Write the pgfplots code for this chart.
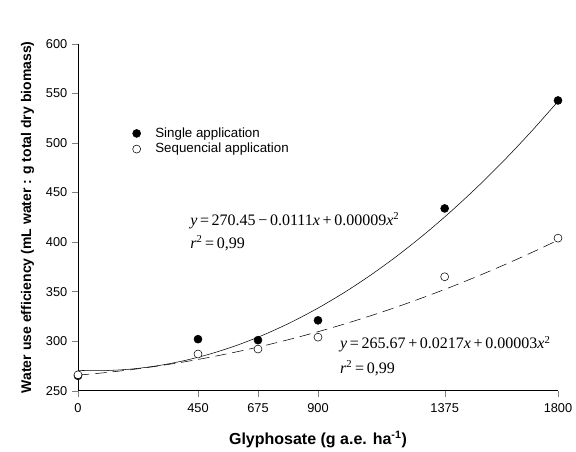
\documentclass[border=0pt]{standalone}
\usepackage{fontspec}
\setmainfont{Liberation Sans}
\newfontfamily\serif{Liberation Serif}
\usepackage{pgfplots}
\pgfplotsset{compat=1.18}
\begin{document}
\begin{tikzpicture}
\begin{axis}[
  width=360pt, height=260pt, scale only axis,
  xmin=0, xmax=1800, ymin=250, ymax=600,
  axis lines=left, axis line style={-},
  xtick={0,450,675,900,1375,1800},
  ytick={250,300,...,600},
  tick align=outside, major tick length=4.5pt,
  /pgf/number format/assume math mode=true,
  /pgf/number format/1000 sep={},
  tick label style={font=\fontsize{9.6}{12}\selectfont},
  xticklabel style={yshift=-2pt},
  xlabel={\textbf{Glyphosate (g a.e. ha\textsuperscript{-1})}},
  ylabel={\textbf{Water use efficiency (mL water : g total dry biomass)}},
  xlabel style={font=\fontsize{12}{14}\selectfont, yshift=-7pt},
  ylabel style={font=\fontsize{10.5}{12}\selectfont, yshift=2pt},
  clip=false,
  legend style={draw=none, fill=none, at={(rel axis cs:0.105,0.775)}, anchor=north west,
    font=\fontsize{10}{11}\selectfont, row sep=-1pt},
  legend cell align=left,
]
\coordinate (ll) at (rel axis cs:0,0);
\coordinate (ur) at (rel axis cs:1,1);
\addplot[black, thin, smooth, forget plot] coordinates {
(0,270.45) (100,270.24) (200,271.83) (300,275.22) (400,280.41) (500,287.40)
(600,296.19) (700,306.78) (800,319.17) (900,333.36) (1000,349.35) (1100,367.14)
(1200,386.73) (1300,408.12) (1400,431.31) (1500,456.30) (1600,483.09) (1700,511.68) (1800,542.07)};
\addplot[black, thin, smooth, dash pattern=on 8.5pt off 4.5pt, forget plot] coordinates {
(0,265.67) (100,268.14) (200,271.21) (300,274.88) (400,279.15) (500,284.02)
(600,289.49) (700,295.56) (800,302.23) (900,309.50) (1000,317.37) (1100,325.84)
(1200,334.91) (1300,344.58) (1400,354.85) (1500,365.72) (1600,377.19) (1700,389.26) (1800,401.93)};
\addplot[only marks, mark=*, mark size=3pt, black, mark options={fill=black}] coordinates {
(0,265) (450,302) (675,301) (900,321) (1375,434) (1800,543)};
\addlegendentry{\hspace*{9pt}Single application}
\addplot[only marks, mark=*, mark size=3pt, black, mark options={fill=white}] coordinates {
(0,266) (450,287) (675,292) (900,304) (1375,365) (1800,404)};
\addlegendentry{\hspace*{9pt}Sequencial application}
\node[anchor=west, font=\serif\fontsize{12}{14}\selectfont, inner sep=0pt] at (axis cs:420,422)
  {\textit{y}\,=\,270.45\,−\,0.0111\textit{x}\,+\,0.00009\textit{x}\textsuperscript{2}};
\node[anchor=west, font=\serif\fontsize{12}{14}\selectfont, inner sep=0pt] at (axis cs:420,399)
  {\textit{r}\textsuperscript{2}\,=\,0,99};
\node[anchor=west, font=\serif\fontsize{12}{14}\selectfont, inner sep=0pt] at (axis cs:982,297)
  {\textit{y}\,=\,265.67\,+\,0.0217\textit{x}\,+\,0.00003\textit{x}\textsuperscript{2}};
\node[anchor=west, font=\serif\fontsize{12}{14}\selectfont, inner sep=0pt] at (axis cs:982,273)
  {\textit{r}\textsuperscript{2}\,=\,0,99};
\end{axis}
\pgfresetboundingbox
\path ([shift={(-58.5pt,-45.75pt)}]ll) rectangle ([shift={(13.5pt,33pt)}]ur);
\end{tikzpicture}
\end{document}
